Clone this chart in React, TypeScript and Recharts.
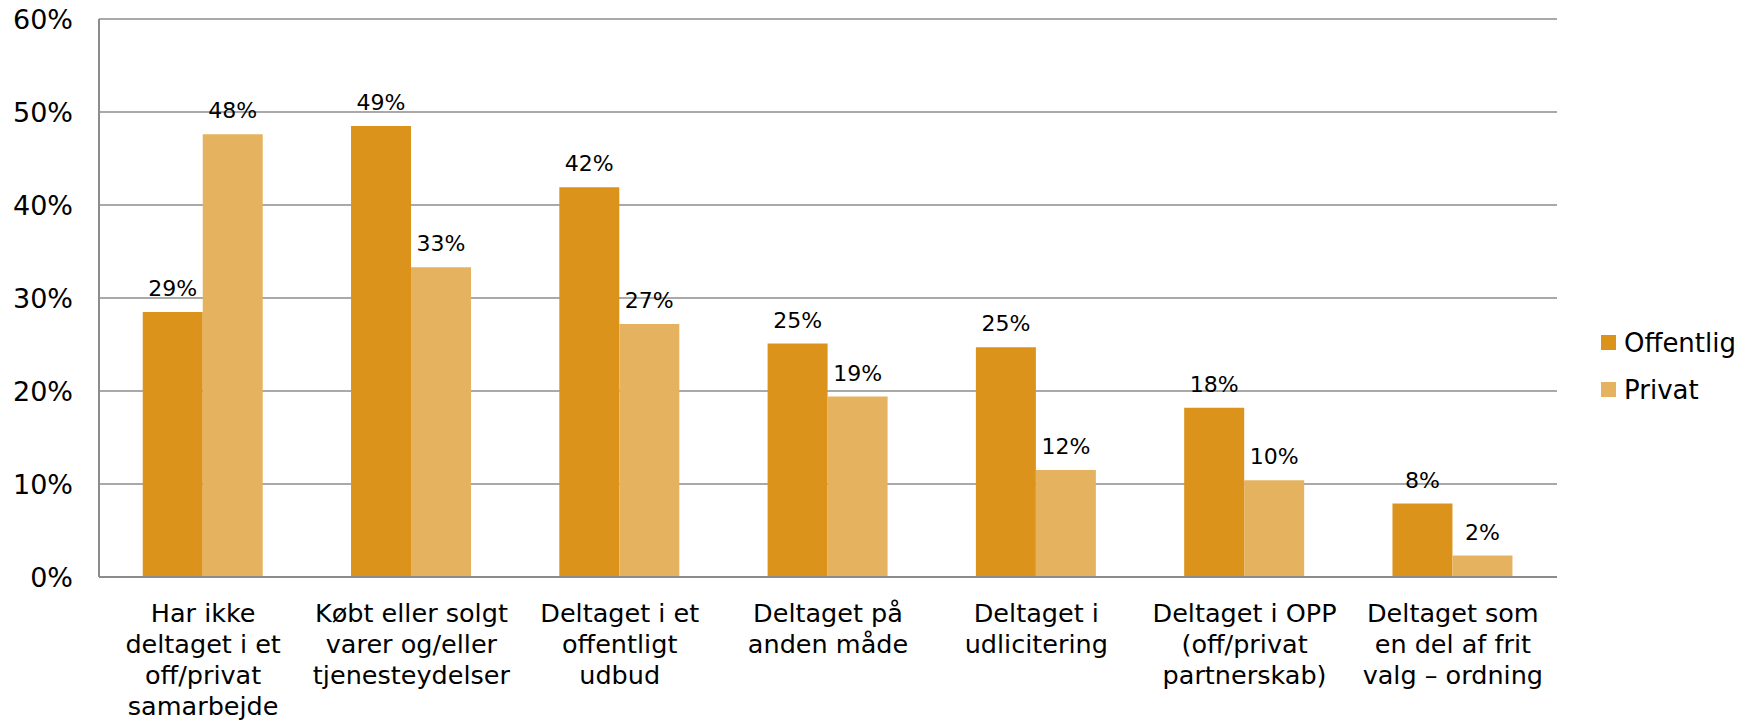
import React from 'react';
import { BarChart, Bar, XAxis, YAxis, CartesianGrid, Legend, LabelList } from 'recharts';

const categories = [
  'Har ikke\ndeltaget i et\noff/privat\nsamarbejde',
  'Købt eller solgt\nvarer og/eller\ntjenesteydelser',
  'Deltaget i et\noffentligt\nudbud',
  'Deltaget på\nanden måde',
  'Deltaget i\nudlicitering',
  'Deltaget i OPP\n(off/privat\npartnerskab)',
  'Deltaget som\nen del af frit\nvalg – ordning',
];
const offentlig = [28.5, 48.5, 41.9, 25.1, 24.7, 18.2, 7.9];
const privat = [47.6, 33.3, 27.2, 19.4, 11.5, 10.4, 2.3];
const yTicks = [0, 10, 20, 30, 40, 50, 60];

const seriesNames = ['Offentlig', 'Privat'];
const colors = ['#DB931C', '#E5B35F'];

const FONT = '"DejaVu Sans", Verdana, sans-serif';

const data = categories.map((c, i) => ({
  name: c,
  Offentlig: offentlig[i],
  Privat: privat[i],
}));

// multi-line category labels, split on \n
const CategoryTick = ({ x, y, payload }: any) => {
  const lines = String(payload.value).split('\n');
  return (
    <text x={x} y={y} textAnchor="middle" fontSize={25.5} fontFamily={FONT} fill="#000">
      {lines.map((line, i) => (
        <tspan key={i} x={x} dy={i === 0 ? 45 : 31}>
          {line}
        </tspan>
      ))}
    </text>
  );
};

const LegendBox = () => (
  <div style={{ fontFamily: FONT, fontSize: 26, color: '#000' }}>
    {seriesNames.map((s, i) => (
      <div key={s} style={{ display: 'flex', alignItems: 'center', height: 47 }}>
        <span
          style={{ display: 'inline-block', width: 15, height: 15, background: colors[i], marginRight: 8 }}
        />
        <span>{s}</span>
      </div>
    ))}
  </div>
);

const pct = (v: any) => `${Math.round(Number(v))}%`;

export default function App() {
  return (
    <div style={{ position: 'absolute', left: 0, top: 0, width: 1748, height: 724, background: '#fff' }}>
      <BarChart
        width={1748}
        height={724}
        data={data}
        margin={{ top: 19, right: 191, bottom: 0, left: 0 }}
        barCategoryGap="21%"
        barGap={0}
      >
        <CartesianGrid vertical={false} stroke="#8c8c8c" strokeWidth={1.5} />
        <XAxis
          dataKey="name"
          height={147}
          interval={0}
          tickLine={false}
          tickSize={0}
          tickMargin={0}
          axisLine={{ stroke: '#8c8c8c', strokeWidth: 2 }}
          tick={<CategoryTick />}
        />
        <YAxis
          width={99}
          domain={[0, 60]}
          ticks={yTicks}
          tickFormatter={(v) => `${v}%`}
          tickLine={false}
          tickSize={0}
          tickMargin={26}
          axisLine={{ stroke: '#8c8c8c', strokeWidth: 2 }}
          tick={{ fontSize: 27, fontFamily: FONT, fill: '#000' }}
        />
        <Legend
          layout="horizontal"
          align="center"
          verticalAlign="middle"
          content={<LegendBox />}
          wrapperStyle={{ left: 1601, top: 319, width: 150, height: 94 }}
        />
        {seriesNames.map((s, i) => (
          <Bar key={s} dataKey={s} fill={colors[i]} isAnimationActive={false}>
            <LabelList
              dataKey={s}
              position="top"
              offset={16}
              formatter={pct}
              style={{ fontSize: 22, fontFamily: FONT, fill: '#000' }}
            />
          </Bar>
        ))}
      </BarChart>
    </div>
  );
}
